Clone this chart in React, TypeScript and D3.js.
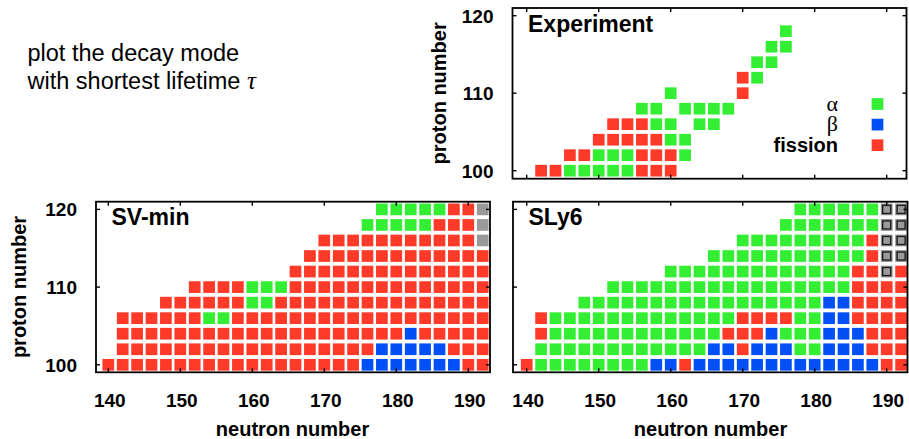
import React from "react";
import * as d3 from "d3";

// Row = [proton number Z, first neutron number N, decay codes for N, N+2, ...]
// codes: a = alpha, b = beta, f = fission, u = unknown, s = unknown (boxed), . = none
// spaces inside a code string only group the runs and are ignored
type Row = [number, number, string];

const zTicks = [100, 110, 120];
const nTicks = [140, 150, 160, 170, 180, 190];

const experimentRows: Row[] = [
  [100, 142, "ff aaaaa fff"],
  [102, 146, "ff aaa fff a"],
  [104, 150, "fffff aa"],
  [106, 152, "fff aa . aa"],
  [108, 156, "aa . aaaa"],
  [110, 160, "a .... f"],
  [112, 170, "f a"],
  [114, 172, "aa"],
  [116, 174, "aa"],
  [118, 176, "a"],
];

const svMinRows: Row[] = [
  [100, 140, "ffffff ffffff ffffff bbbbbbb ff"],
  [102, 142, "ffffff ffffff ffffff bbbbb fff"],
  [104, 142, "ffffff ffffff ffffff ff b fffff"],
  [106, 142, "ffffff aa ffffff ffffff ffffff"],
  [108, 148, "ffffff aa ffffff fffffffff"],
  [110, 152, "ffff aaa ffffff ffffffff"],
  [112, 166, "ffffff ffffff ff"],
  [114, 168, "ffffff ffffff f"],
  [116, 170, "ffffff fffff u"],
  [118, 176, "aaaaa fff u"],
  [120, 178, "aaaaa ff u"],
];

const sly6Rows: Row[] = [
  [100, 140, "f aaaaaaaa bb f bbbbbb bbbbbbb ff"],
  [102, 142, "aaaaaa aaaaaa bb f bbb aa bbb fff"],
  [104, 142, "f aaaaaa aaaaaa fff b aaa bbb fff"],
  [106, 142, "f aaaaaa aaaaaaa ffff aa bb ffff"],
  [108, 148, "aaaaaa aaaaaa aaaaa bb ffff"],
  [110, 152, "aaaaaa aaaaaa aaaaa ffff"],
  [112, 160, "aaaaaa aaaaaaa ff s f"],
  [114, 166, "aaaaaa aaaaa f ss"],
  [116, 170, "aaaaaaaaa f ss"],
  [118, 176, "aaaaaaa ss"],
  [120, 178, "aaaaaa ss"],
];

const legendItems: [string, string][] = [
  ["α", "a"],
  ["β", "b"],
  ["fission", "f"],
];

const COLORS: Record<string, string> = {
  a: "#33ee33",
  b: "#0050f5",
  f: "#ff3a28",
  u: "#999999",
  s: "#8a8a8a",
};

const SANS = "'Liberation Sans', Arial, Helvetica, sans-serif";
const SERIF = "'Liberation Serif', 'DejaVu Serif', serif";
const CELL = 11.7;

type Panel = {
  title: string;
  rows: Row[];
  frame: [number, number, number, number]; // left, top, right, bottom
  xr: [number, number]; // pixel of N=140, N=190
  yr: [number, number]; // pixel of Z=100, Z=120
  xLabels: boolean;
  yLabels: boolean;
};

const panels: Panel[] = [
  {
    title: "Experiment",
    rows: experimentRows,
    frame: [512.5, 8, 906.5, 178.7],
    xr: [526.7, 886.7],
    yr: [170.7, 15.7],
    xLabels: false,
    yLabels: true,
  },
  {
    title: "SV-min",
    rows: svMinRows,
    frame: [96, 201.7, 490, 372.3],
    xr: [108.3, 468.3],
    yr: [364.8, 209.4],
    xLabels: true,
    yLabels: true,
  },
  {
    title: "SLy6",
    rows: sly6Rows,
    frame: [513, 201.7, 907.5, 372.3],
    xr: [526.7, 886.7],
    yr: [364.8, 209.4],
    xLabels: true,
    yLabels: false,
  },
];

function Cell({ cx, cy, code }: { cx: number; cy: number; code: string }) {
  const h = CELL / 2;
  if (code === "s") {
    return (
      <g>
        <rect x={cx - h} y={cy - h} width={CELL} height={CELL} fill={COLORS.s} />
        <rect x={cx - 4} y={cy - 4} width={8} height={8} fill="#9a9a9a" stroke="#1a1a1a" strokeWidth={1.3} />
      </g>
    );
  }
  return <rect x={cx - h} y={cy - h} width={CELL} height={CELL} fill={COLORS[code]} />;
}

function PanelView({ p }: { p: Panel }) {
  const x = d3.scaleLinear().domain([140, 190]).range(p.xr);
  const y = d3.scaleLinear().domain([100, 120]).range(p.yr);
  const [l, t, r, b] = p.frame;
  const cells: JSX.Element[] = [];
  p.rows.forEach(([z, n0, codes]) => {
    codes
      .replace(/ /g, "")
      .split("")
      .forEach((c, i) => {
        if (c === ".") return;
        const n = n0 + 2 * i;
        cells.push(<Cell key={`${z}-${n}`} cx={x(n)} cy={y(z)} code={c} />);
      });
  });
  const tl = 4;
  return (
    <g>
      {cells}
      {nTicks.map((n) => (
        <g key={`nt${n}`} stroke="#000" strokeWidth={1.4}>
          <line x1={x(n)} x2={x(n)} y1={b} y2={b - tl} />
          <line x1={x(n)} x2={x(n)} y1={t} y2={t + tl} />
        </g>
      ))}
      {zTicks.map((z) => (
        <g key={`zt${z}`} stroke="#000" strokeWidth={1.4}>
          <line x1={l} x2={l + tl} y1={y(z)} y2={y(z)} />
          <line x1={r} x2={r - tl} y1={y(z)} y2={y(z)} />
        </g>
      ))}
      <rect x={l} y={t} width={r - l} height={b - t} fill="none" stroke="#000" strokeWidth={1.8} />
      {p.yLabels &&
        zTicks.map((z) => (
          <text
            key={`zl${z}`}
            x={l - 19}
            y={y(z)}
            dy="0.36em"
            textAnchor="end"
            fontFamily={SANS}
            fontWeight="bold"
            fontSize={19}
          >
            {z}
          </text>
        ))}
      {p.xLabels &&
        nTicks.map((n) => (
          <text
            key={`nl${n}`}
            x={x(n) + 1.5}
            y={406.7}
            textAnchor="middle"
            fontFamily={SANS}
            fontWeight="bold"
            fontSize={19}
          >
            {n}
          </text>
        ))}
      <text x={l + 15.5} y={t + 23.5} fontFamily={SANS} fontWeight="bold" fontSize={23}>
        {p.title}
      </text>
    </g>
  );
}

export default function App() {
  const exp = panels[0];
  return (
    <svg
      width={909}
      height={439}
      viewBox="0 0 909 439"
      style={{ position: "absolute", left: 0, top: 0, background: "#fff" }}
    >
      <rect width={909} height={439} fill="#fff" />
      {panels.map((p) => (
        <PanelView key={p.title} p={p} />
      ))}

      {/* legend inside the Experiment panel */}
      {legendItems.map(([label, code], i) => {
        const cy = 104 + i * 20.6;
        const isWord = label === "fission";
        return (
          <g key={code}>
            <text
              x={838}
              y={cy}
              dy={isWord ? "0.36em" : "0.3em"}
              textAnchor="end"
              fontFamily={isWord ? SANS : SERIF}
              fontWeight={isWord ? "bold" : "normal"}
              fontSize={isWord ? 20 : 22}
            >
              {label}
            </text>
            <rect x={877.5 - CELL / 2} y={cy - CELL / 2} width={CELL} height={CELL} fill={COLORS[code]} />
          </g>
        );
      })}

      {/* axis titles */}
      <text
        transform={`translate(446,${(exp.frame[1] + exp.frame[3]) / 2}) rotate(-90)`}
        textAnchor="middle"
        fontFamily={SANS}
        fontWeight="bold"
        fontSize={20}
      >
        proton number
      </text>
      <text
        transform={`translate(26,${(201.7 + 372.3) / 2}) rotate(-90)`}
        textAnchor="middle"
        fontFamily={SANS}
        fontWeight="bold"
        fontSize={20}
      >
        proton number
      </text>
      <text x={292.5} y={435.5} textAnchor="middle" fontFamily={SANS} fontWeight="bold" fontSize={20}>
        neutron number
      </text>
      <text x={710.5} y={435.5} textAnchor="middle" fontFamily={SANS} fontWeight="bold" fontSize={20}>
        neutron number
      </text>

      {/* annotation */}
      <text x={27.5} y={60.5} fontFamily={SANS} fontSize={23.5}>
        plot the decay mode
      </text>
      <text x={27.5} y={88.5} fontFamily={SANS} fontSize={23.5}>
        with shortest lifetime{" "}
        <tspan fontFamily={SERIF} fontStyle="italic" fontSize={25}>
          τ
        </tspan>
      </text>
    </svg>
  );
}
